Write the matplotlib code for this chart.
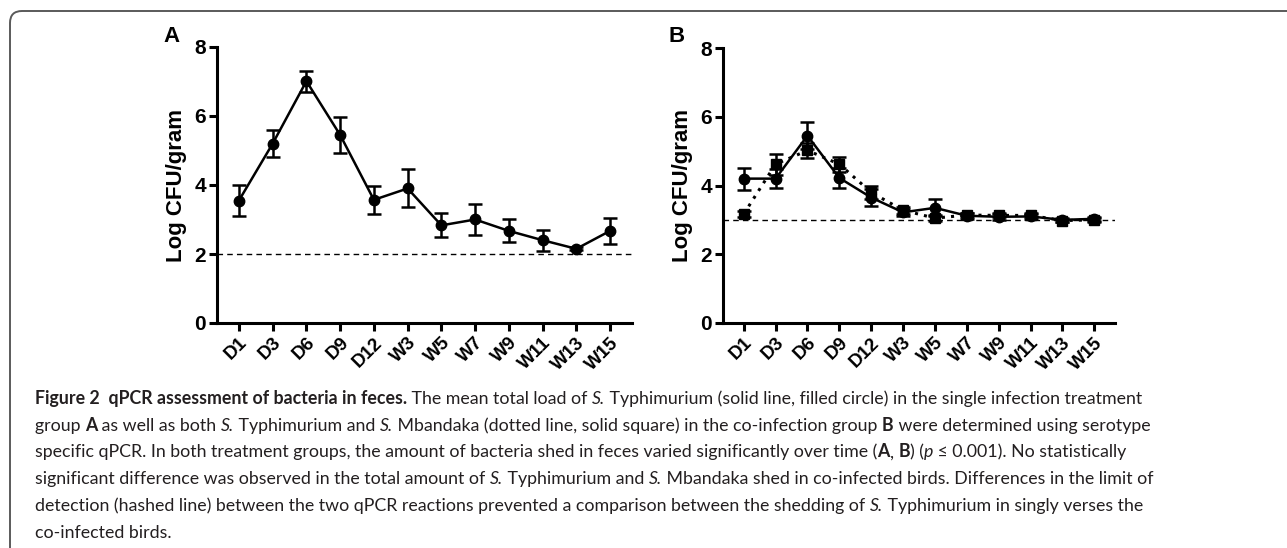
import matplotlib
matplotlib.use('Agg')
import matplotlib.pyplot as plt
from matplotlib.path import Path
from matplotlib.patches import PathPatch

plt.rcParams['font.family'] = ['Liberation Sans', 'DejaVu Sans']

# time points
days = ['D1', 'D3', 'D6', 'D9', 'D12', 'W3', 'W5', 'W7', 'W9', 'W11', 'W13', 'W15']

# panel A: S. Typhimurium, single infection
a_mean = [3.55, 5.2, 7.01, 5.45, 3.57, 3.9, 2.83, 3.0, 2.67, 2.4, 2.15, 2.67]
a_err = [0.45, 0.4, 0.3, 0.53, 0.4, 0.55, 0.35, 0.45, 0.33, 0.3, 0.04, 0.37]
a_lod = 2

# panel B: co-infection
b_st_mean = [4.2, 4.2, 5.45, 4.22, 3.65, 3.22, 3.35, 3.12, 3.09, 3.1, 3.0, 3.03]
b_st_err = [0.32, 0.28, 0.4, 0.28, 0.25, 0.1, 0.25, 0.08, 0.08, 0.07, 0.05, 0.05]
b_sm_mean = [3.17, 4.62, 5.02, 4.62, 3.8, 3.28, 3.05, 3.14, 3.13, 3.13, 2.98, 3.0]
b_sm_err = [0.08, 0.3, 0.22, 0.22, 0.18, 0.1, 0.08, 0.06, 0.06, 0.06, 0.05, 0.05]
b_lod = 3

W, H = 1287, 548
fig = plt.figure(figsize=(W / 100, H / 100), dpi=100)


def px_axes(x0, x1, ytop, ybot):
    return fig.add_axes([x0 / W, 1 - ybot / H, (x1 - x0) / W, (ybot - ytop) / H])


def style_axis(ax):
    for s in ['top', 'right']:
        ax.spines[s].set_visible(False)
    for s in ['left', 'bottom']:
        ax.spines[s].set_linewidth(2.2)
    ax.set_ylim(0, 8)
    ax.set_yticks([0, 2, 4, 6, 8])
    ax.set_xlim(-0.65, 11.65)
    ax.set_xticks(range(len(days)))
    ax.set_xticklabels(days, rotation=45, ha='right', va='top', rotation_mode='anchor',
                       fontsize=13.5, fontweight='bold')
    ax.tick_params(axis='both', direction='out', length=6, width=2.2, pad=2)
    ax.tick_params(axis='y', labelsize=15)
    for lab in ax.get_yticklabels():
        lab.set_fontweight('bold')
    ax.set_ylabel('Log CFU/gram', fontsize=16, fontweight='bold', labelpad=5)


# Panel A
axA = px_axes(217, 632, 47, 323)
axA.axhline(a_lod, color='black', lw=1, ls=(0, (4, 3)))
axA.errorbar(range(len(days)), a_mean, yerr=a_err, fmt='-o', color='black', lw=1.8,
             markersize=7.5, elinewidth=1.8, capsize=5, capthick=1.8)
style_axis(axA)

# Panel B
axB = px_axes(723, 1115, 48, 323)
axB.axhline(b_lod, color='black', lw=1, ls=(0, (4, 3)))
axB.errorbar(range(len(days)), b_st_mean, yerr=b_st_err, fmt='-o', color='black', lw=1.8,
             markersize=7.5, elinewidth=1.8, capsize=5, capthick=1.8)
axB.errorbar(range(len(days)), b_sm_mean, yerr=b_sm_err, fmt='s', color='black',
             markersize=7, elinewidth=1.8, capsize=5, capthick=1.8)
axB.plot(range(len(days)), b_sm_mean, color='black', lw=2.2, ls=(0, (1, 2)))
style_axis(axB)

fig.text(172 / W, 1 - 37 / H, 'A', fontsize=16, fontweight='bold', ha='center', va='center')
fig.text(677 / W, 1 - 37 / H, 'B', fontsize=16, fontweight='bold', ha='center', va='center')

# border (rounded top-left corner)
verts = [(10, H), (10, 23), (10, 11), (22, 11), (W, 11)]
codes = [Path.MOVETO, Path.LINETO, Path.CURVE3, Path.CURVE3, Path.LINETO]
verts = [(x / W, 1 - y / H) for x, y in verts]
fig.patches.append(PathPatch(Path(verts, codes), transform=fig.transFigure,
                             fill=False, edgecolor='#5a5a5a', lw=1.4))

# caption
cap_font = ['Lato', 'DejaVu Sans']
cap_size = 12.8
caption = [
    [('Figure 2  qPCR assessment of bacteria in feces.', 'b'), (' The mean total load of ', 'n'),
     ('S.', 'i'), (' Typhimurium (solid line, filled circle) in the single infection treatment', 'n')],
    [('group ', 'n'), ('A', 'b'), (' as well as both ', 'n'), ('S.', 'i'), (' Typhimurium and ', 'n'),
     ('S.', 'i'), (' Mbandaka (dotted line, solid square) in the co-infection group ', 'n'),
     ('B', 'b'), (' were determined using serotype', 'n')],
    [('specific qPCR. In both treatment groups, the amount of bacteria shed in feces varied '
      'significantly over time (', 'n'), ('A', 'b'), (', ', 'n'), ('B', 'b'), (') (', 'n'),
     ('p', 'i'), (' \u2264 0.001). No statistically', 'n')],
    [('significant difference was observed in the total amount of ', 'n'), ('S.', 'i'),
     (' Typhimurium and ', 'n'), ('S.', 'i'),
     (' Mbandaka shed in co-infected birds. Differences in the limit of', 'n')],
    [('detection (hashed line) between the two qPCR reactions prevented a comparison between '
      'the shedding of ', 'n'), ('S.', 'i'), (' Typhimurium in singly verses the', 'n')],
    [('co-infected birds.', 'n')],
]

renderer = fig.canvas.get_renderer()


def run_props(kind):
    return dict(family=cap_font, fontsize=cap_size, color='#231f20',
                fontweight='bold' if kind == 'b' else 'normal',
                fontstyle='italic' if kind == 'i' else 'normal')


def text_width(s, kind):
    t1 = fig.text(0, 0, '|' + s + '|', **run_props(kind))
    t2 = fig.text(0, 0, '||', **run_props(kind))
    w = t1.get_window_extent(renderer).width - t2.get_window_extent(renderer).width
    t1.remove()
    t2.remove()
    return w


for i, line in enumerate(caption):
    x = 35
    y = 404 + i * 26.7
    for s, kind in line:
        fig.text(x / W, 1 - y / H, s, va='baseline', ha='left', **run_props(kind))
        x += text_width(s, kind)

fig.savefig('out.png', dpi=100)
